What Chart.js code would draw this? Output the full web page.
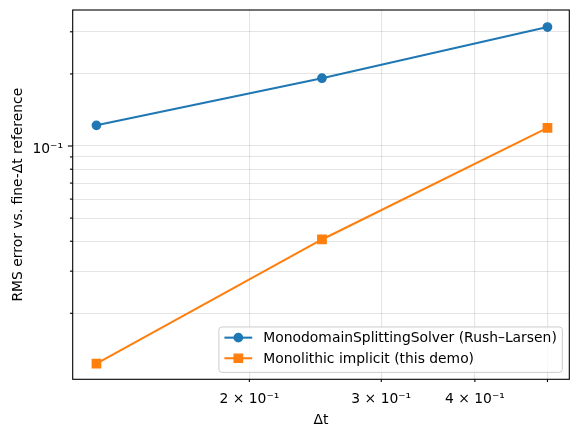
<!DOCTYPE html>
<html><head><meta charset="utf-8">
<script src="https://cdn.jsdelivr.net/npm/chart.js@4/dist/chart.umd.min.js"></script>
<style>html,body{margin:0;padding:0;background:#fff;} #wrap{width:579px;height:435px;position:relative}</style>
</head><body><div id="wrap"><canvas id="c" width="579" height="435"></canvas></div>
<script>
const dtValues = [0.125, 0.25, 0.5];
const splittingErrors = [0.122, 0.192, 0.314];
const monolithicErrors = [0.01233, 0.0407, 0.119];
const seriesLabels = ['MonodomainSplittingSolver (Rush–Larsen)', 'Monolithic implicit (this demo)'];
const seriesColors = ['#1f77b4', '#ff7f0e'];
const xTickValues = [0.2, 0.3, 0.4, 0.5];
const xTickLabels = ['2 × 10⁻¹', '3 × 10⁻¹', '4 × 10⁻¹', ''];
const yTickValues = [0.02, 0.03, 0.04, 0.05, 0.06, 0.07, 0.08, 0.09, 0.1, 0.2, 0.3];
const yTickLabels = ['', '', '', '', '', '', '', '', '10⁻¹', '', ''];
const yMajorValues = [0.1];
const xLimits = [0.1162, 0.5347];
const yLimits = [0.0106, 0.370];
const xTitle = 'Δt';
const yTitle = 'RMS error vs. fine-Δt reference';

const FONT = 'DejaVu Sans';
const FS = 13.89;

function toPts(xs, ys) { return xs.map((x, i) => ({x: x, y: ys[i]})); }

function noPad(s) { s.paddingTop = 0; s.paddingBottom = 0; s.paddingLeft = 0; s.paddingRight = 0; }

const frameTicks = {
  id: 'frameTicks',
  afterDatasetsDraw(chart) {
    const ctx = chart.ctx, a = chart.chartArea;
    ctx.save();
    ctx.strokeStyle = '#000';
    ctx.lineWidth = 1.1;
    const xs = chart.scales.x, ys = chart.scales.y;
    xs.ticks.forEach(t => {
      const p = xs.getPixelForValue(t.value);
      ctx.beginPath(); ctx.moveTo(p, a.bottom); ctx.lineTo(p, a.bottom + 2.78); ctx.stroke();
    });
    ys.ticks.forEach(t => {
      const p = ys.getPixelForValue(t.value);
      const len = yMajorValues.includes(t.value) ? 4.86 : 2.78;
      ctx.beginPath(); ctx.moveTo(a.left, p); ctx.lineTo(a.left - len, p); ctx.stroke();
    });
    ctx.strokeRect(a.left, a.top, a.right - a.left, a.bottom - a.top);
    ctx.restore();
  },
  afterDraw(chart) {
    const ctx = chart.ctx, a = chart.chartArea;
    ctx.save();
    ctx.font = FS + 'px "' + FONT + '"';
    const tw = Math.max(...seriesLabels.map(s => ctx.measureText(s).width));
    const pad = 0.4 * FS, handle = 2 * FS, gap = 0.8 * FS;
    const w = pad + handle + gap + tw + pad, h = 45.4;
    const right = a.right - 0.5 * FS, bottom = a.bottom - 0.5 * FS;
    const left = right - w, top = bottom - h;
    const r = 3;
    ctx.beginPath();
    ctx.moveTo(left + r, top);
    ctx.arcTo(right, top, right, bottom, r);
    ctx.arcTo(right, bottom, left, bottom, r);
    ctx.arcTo(left, bottom, left, top, r);
    ctx.arcTo(left, top, right, top, r);
    ctx.closePath();
    ctx.fillStyle = 'rgba(255,255,255,0.8)';
    ctx.fill();
    ctx.strokeStyle = '#cccccc';
    ctx.lineWidth = 1;
    ctx.stroke();
    chart.data.datasets.forEach((ds, i) => {
      const cy = top + 10.7 + i * 20.6;
      const hx0 = left + pad, hx1 = hx0 + handle;
      ctx.strokeStyle = ds.borderColor;
      ctx.lineWidth = ds.borderWidth;
      ctx.beginPath(); ctx.moveTo(hx0, cy); ctx.lineTo(hx1, cy); ctx.stroke();
      ctx.fillStyle = ds.pointBackgroundColor;
      ctx.strokeStyle = ds.borderColor;
      ctx.lineWidth = ds.pointBorderWidth;
      Chart.helpers.drawPoint(ctx, {pointStyle: ds.pointStyle, radius: ds.pointRadius, borderWidth: ds.pointBorderWidth, rotation: 0}, (hx0 + hx1) / 2, cy);
      ctx.fillStyle = '#000';
      ctx.textBaseline = 'middle';
      ctx.textAlign = 'left';
      ctx.fillText(seriesLabels[i], hx1 + gap, cy + 1);
    });
    ctx.restore();
  }
};

new Chart(document.getElementById('c'), {
  type: 'line',
  data: {
    datasets: [
      {
        label: seriesLabels[0], data: toPts(dtValues, splittingErrors),
        borderColor: seriesColors[0], backgroundColor: seriesColors[0],
        pointBackgroundColor: seriesColors[0], pointBorderColor: seriesColors[0],
        borderWidth: 2.08, pointStyle: 'circle', pointRadius: 4.17, pointBorderWidth: 1.39,
        tension: 0, fill: false
      },
      {
        label: seriesLabels[1], data: toPts(dtValues, monolithicErrors),
        borderColor: seriesColors[1], backgroundColor: seriesColors[1],
        pointBackgroundColor: seriesColors[1], pointBorderColor: seriesColors[1],
        borderWidth: 2.08, pointStyle: 'rect', pointRadius: 5.89, pointBorderWidth: 1.39,
        tension: 0, fill: false
      }
    ]
  },
  options: {
    responsive: false, animation: false, devicePixelRatio: 1,
    layout: {padding: {top: 10, right: 9.7, left: 0, bottom: 0}},
    plugins: {legend: {display: false}, tooltip: {enabled: false}},
    scales: {
      x: {
        type: 'logarithmic', position: 'bottom', min: xLimits[0], max: xLimits[1],
        border: {display: false},
        grid: {color: 'rgba(176,176,176,0.33)', lineWidth: 1.1, drawTicks: false},
        afterBuildTicks: s => { s.ticks = xTickValues.map(v => ({value: v})); },
        afterFit: s => { s.height = 55.7; noPad(s); },
        ticks: {
          autoSkip: false, maxRotation: 0, minRotation: 0, padding: 11.4, color: '#000',
          font: {family: FONT, size: FS, lineHeight: 1.2},
          callback: (v) => { const i = xTickValues.indexOf(v); return i >= 0 ? xTickLabels[i] : ''; }
        },
        title: {display: true, text: xTitle, color: '#000', font: {family: FONT, size: FS, lineHeight: 1.2}, padding: {top: 0, bottom: 6.2}}
      },
      y: {
        type: 'logarithmic', position: 'left', min: yLimits[0], max: yLimits[1],
        border: {display: false},
        grid: {color: 'rgba(176,176,176,0.33)', lineWidth: 1.1, drawTicks: false},
        afterBuildTicks: s => { s.ticks = yTickValues.map(v => ({value: v})); },
        afterFit: s => { s.width = 72.7; noPad(s); },
        ticks: {
          autoSkip: false, padding: 9.7, labelOffset: 3, color: '#000',
          font: {family: FONT, size: FS, lineHeight: 1.2},
          callback: (v) => { const i = yTickValues.indexOf(v); return i >= 0 ? yTickLabels[i] : ''; }
        },
        title: {display: true, text: yTitle, color: '#000', font: {family: FONT, size: FS, lineHeight: 1.2}, padding: {top: 10.2, bottom: 0}}
      }
    }
  },
  plugins: [frameTicks]
});
</script></body></html>
